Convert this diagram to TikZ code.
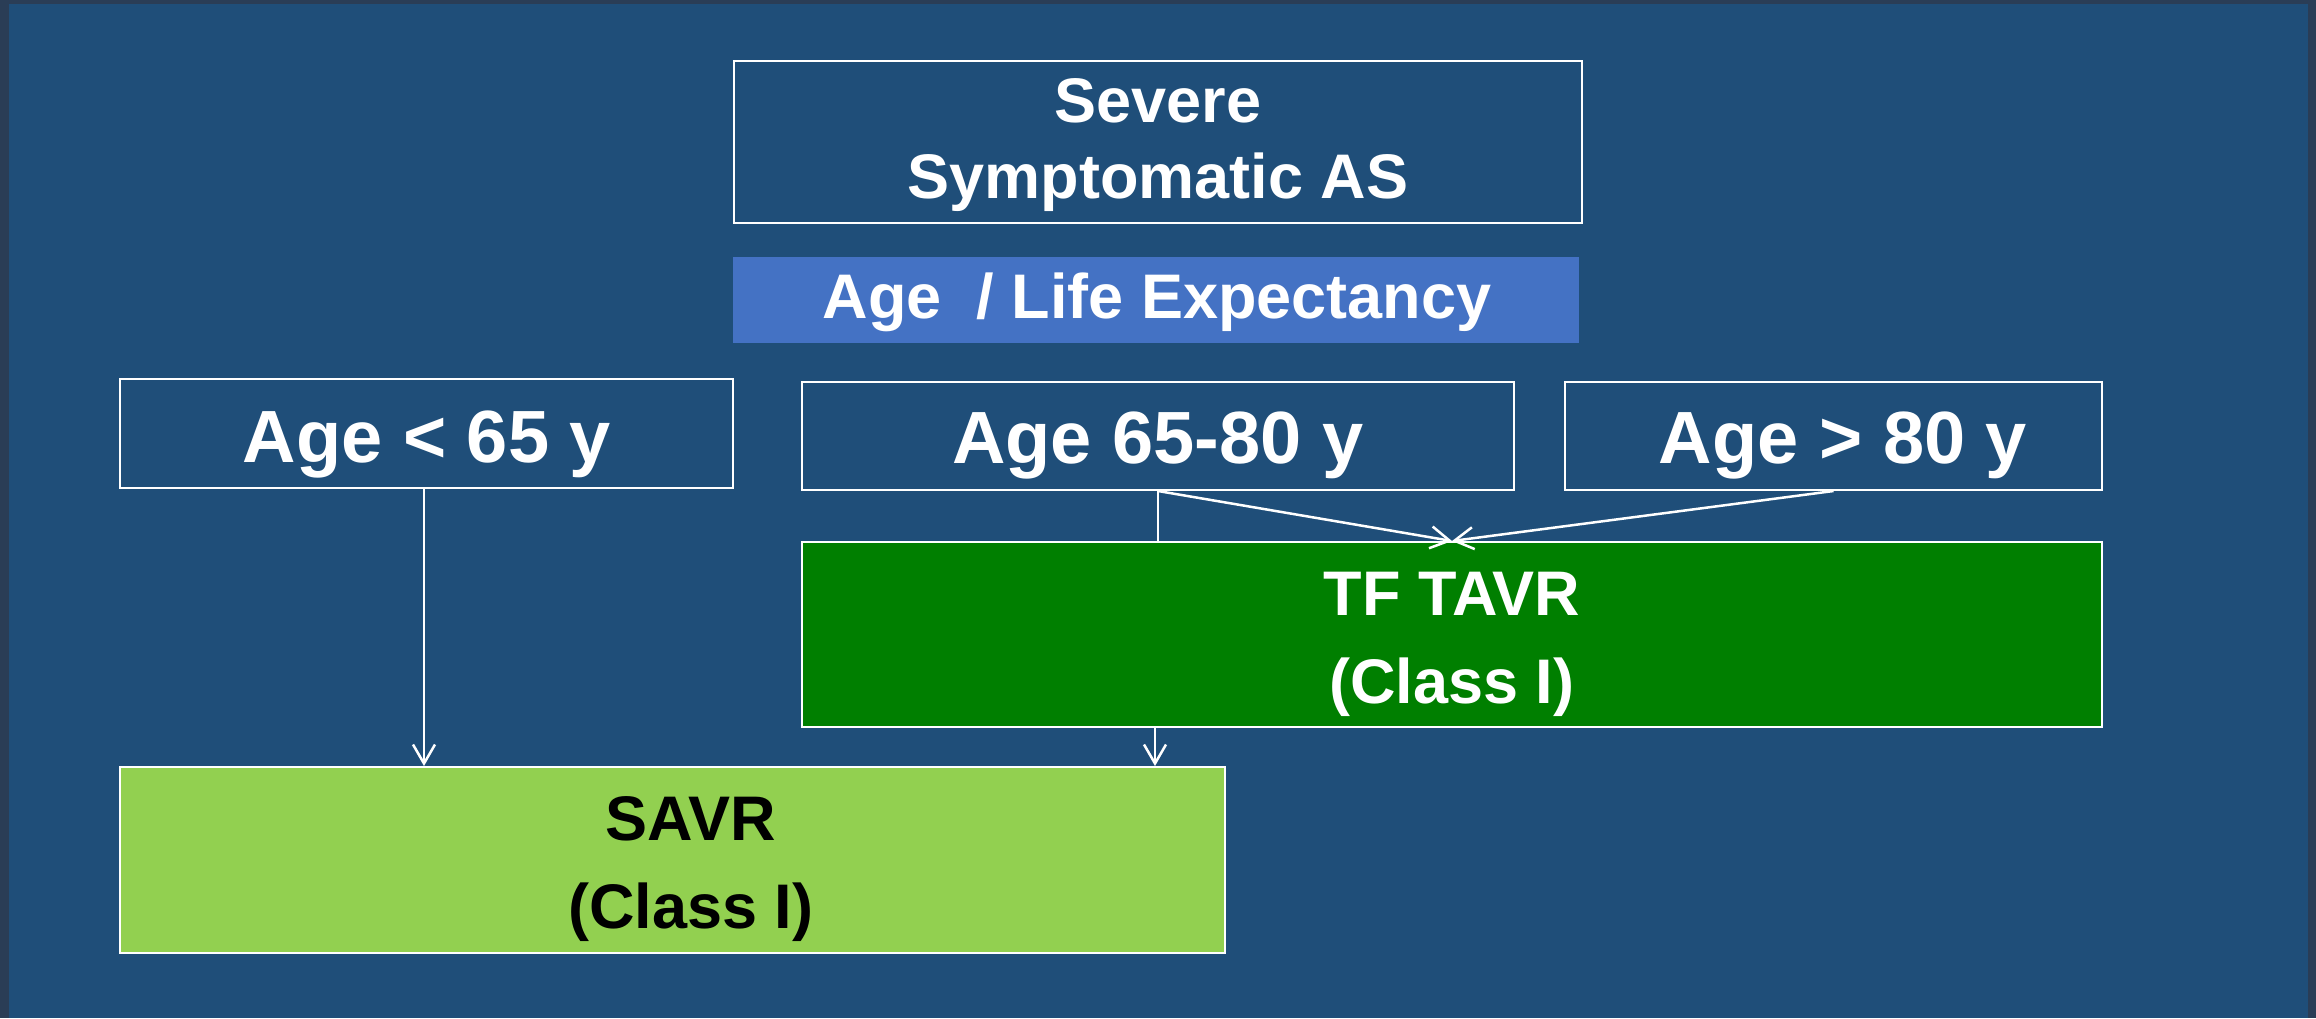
\documentclass[tikz,border=0pt]{standalone}
\usepackage{fontspec}
\setmainfont{Liberation Sans}
\usetikzlibrary{arrows.meta}
\definecolor{frameC}{HTML}{2A3D56}
\definecolor{bgC}{HTML}{1F4E79}
\definecolor{lifeC}{HTML}{4472C4}
\definecolor{tfC}{HTML}{007F00}
\definecolor{savrC}{HTML}{92D050}
\tikzset{
  boxC/.style={draw=white, line width=2pt, inner sep=0pt, rectangle},
  lblM/.style={anchor=base, inner sep=0pt, text=white, font=\fontsize{63}{76}\selectfont\bfseries},
  lblL/.style={anchor=base, inner sep=0pt, text=white, font=\fontsize{74}{88}\selectfont\bfseries},
  conn/.style={draw=white, line width=2.5pt},
  arr/.style={conn, -{Straight Barb[length=19pt,width=22pt,line width=2.5pt]}}
}
\begin{document}
\begin{tikzpicture}[x=1pt,y=-1pt]
\useasboundingbox (0,0) rectangle (2316,1018);
\fill[frameC] (0,0) rectangle (2316,1018);
\fill[bgC] (9,4) rectangle (2308,1018);
% boxes
\node[boxC, minimum width=848pt, minimum height=162pt] (sev) at (1158,142) {};
\node[boxC, draw=none, fill=lifeC, minimum width=846pt, minimum height=86pt] (life) at (1156,300) {};
\node[boxC, minimum width=613pt, minimum height=109pt] (a65) at (426.5,433) {};
\node[boxC, minimum width=712pt, minimum height=108pt] (a6580) at (1158,436) {};
\node[boxC, minimum width=537pt, minimum height=108pt] (a80) at (1833.5,436) {};
\node[boxC, fill=tfC, minimum width=1300pt, minimum height=185pt] (tf) at (1452,634.5) {};
\node[boxC, fill=savrC, minimum width=1105pt, minimum height=186pt] (savr) at (672.5,860) {};
% texts
\node[lblM] (t1) at (1158,122) {Severe};
\node[lblM] (t2) at (1158,198) {Symptomatic AS};
\node[lblM] (t3) at (1157,318) {Age\ \ / Life Expectancy};
\node[lblL] (t4) at (427,462) {Age < 65 y};
\node[lblL] (t5) at (1158,463) {Age 65-80 y};
\node[lblL] (t6) at (1843,463) {Age > 80 y};
\node[lblM] (t7) at (1452,615) {TF TAVR};
\node[lblM] (t8) at (1452,703) {(Class I)};
\node[lblM, text=black] (t9) at (691,840) {SAVR};
\node[lblM, text=black] (t10) at (691,928) {(Class I)};
% connectors
\coordinate (xa) at (424,0);
\coordinate (xb) at (1155,0);
\coordinate (xc) at (1158,0);
\coordinate (xm) at (1452,0);
\draw[arr] (a65.south -| xa) -- (savr.north -| xa);
\draw[arr] (tf.south -| xb) -- (savr.north -| xb);
\draw[conn] (a6580.south -| xc) -- (tf.north -| xc);
\draw[arr] (a6580.south -| xc) -- (tf.north -| xm);
\draw[arr] (a80.south) -- (tf.north -| xm);
\end{tikzpicture}
\end{document}
